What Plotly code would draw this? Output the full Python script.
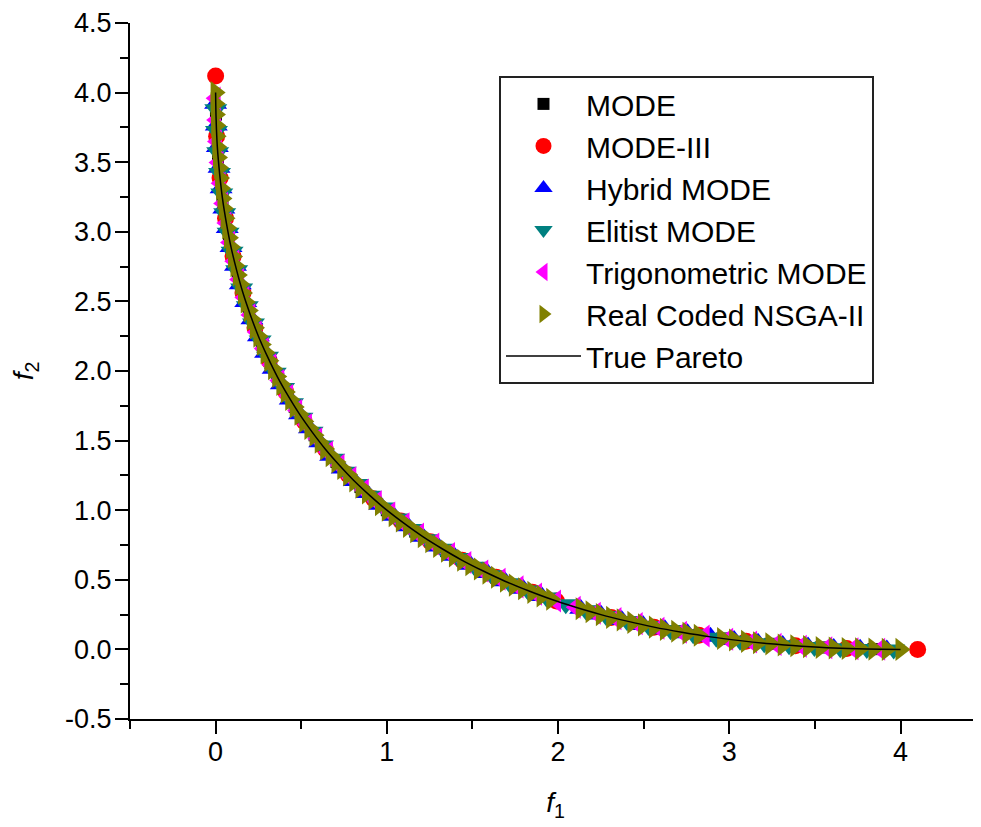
import plotly.graph_objects as go

# ---- data (f1, f2) ----
MODE_F1 = [0.002, 0.014, 0.040, 0.078, 0.130, 0.194, 0.270, 0.360, 0.462, 0.578, 0.706, 0.846, 1.000,
           1.166, 1.346, 1.538, 1.742, 1.960, 2.190, 2.434, 2.690, 2.958, 3.240, 3.534, 3.842]
MODE_F2 = [3.842, 3.534, 3.240, 2.958, 2.690, 2.434, 2.190, 1.960, 1.742, 1.538, 1.346, 1.166, 1.000,
           0.846, 0.706, 0.578, 0.462, 0.360, 0.270, 0.194, 0.130, 0.078, 0.040, 0.014, 0.002]

MODE3_F1 = [0.000, 0.006, 0.026, 0.058, 0.102, 0.160, 0.230, 0.314, 0.410, 0.518, 0.640, 0.774, 0.922,
            1.082, 1.254, 1.440, 1.638, 1.850, 1.990, 2.310, 2.560, 2.822, 3.098, 3.386, 3.686, 4.100]
MODE3_F2 = [4.120, 3.686, 3.386, 3.098, 2.822, 2.560, 2.310, 2.074, 1.850, 1.638, 1.440, 1.254, 1.082,
            0.922, 0.774, 0.640, 0.518, 0.410, 0.347, 0.230, 0.160, 0.102, 0.058, 0.026, 0.006, 0.000]

HYB_F1 = [0.000, 0.004, 0.010, 0.020, 0.032, 0.048, 0.068, 0.090, 0.116, 0.144, 0.176, 0.212, 0.250,
          0.292, 0.336, 0.384, 0.436, 0.490, 0.548, 0.608, 0.672, 0.740, 0.810, 0.884, 0.960, 1.040,
          1.124, 1.210, 1.300, 1.392, 1.488, 1.588, 1.690, 1.796, 1.904, 2.132, 2.250, 2.372, 2.496,
          2.624, 2.756, 2.890, 3.028, 3.168, 3.312, 3.460, 3.610, 3.764, 3.920]
HYB_F2 = [3.920, 3.764, 3.610, 3.460, 3.312, 3.168, 3.028, 2.890, 2.756, 2.624, 2.496, 2.372, 2.250,
          2.132, 2.016, 1.904, 1.796, 1.690, 1.588, 1.488, 1.392, 1.300, 1.210, 1.124, 1.040, 0.960,
          0.884, 0.810, 0.740, 0.672, 0.608, 0.548, 0.490, 0.436, 0.384, 0.292, 0.250, 0.212, 0.176,
          0.144, 0.116, 0.090, 0.068, 0.048, 0.032, 0.020, 0.010, 0.004, 0.000]

ELI_F1 = [0.001, 0.005, 0.012, 0.023, 0.036, 0.053, 0.073, 0.096, 0.123, 0.152, 0.185, 0.221, 0.260,
          0.303, 0.348, 0.397, 0.449, 0.504, 0.563, 0.624, 0.689, 0.757, 0.828, 0.903, 0.980, 1.061,
          1.145, 1.232, 1.323, 1.416, 1.513, 1.613, 1.716, 1.823, 1.932, 2.045, 2.161, 2.280, 2.403,
          2.528, 2.657, 2.789, 2.924, 3.063, 3.204, 3.349, 3.497, 3.648, 3.803, 3.960]
ELI_F2 = [3.881, 3.725, 3.572, 3.423, 3.276, 3.133, 2.993, 2.856, 2.723, 2.592, 2.465, 2.341, 2.220,
          2.103, 1.988, 1.877, 1.769, 1.664, 1.563, 1.464, 1.369, 1.277, 1.188, 1.103, 1.020, 0.941,
          0.865, 0.792, 0.723, 0.656, 0.593, 0.533, 0.476, 0.423, 0.372, 0.325, 0.281, 0.240, 0.203,
          0.168, 0.137, 0.109, 0.084, 0.063, 0.044, 0.029, 0.017, 0.008, 0.003, 0.000]

TRIG_F1 = [0.000, 0.003, 0.008, 0.017, 0.029, 0.044, 0.063, 0.084, 0.109, 0.137, 0.168, 0.203, 0.240,
           0.281, 0.325, 0.372, 0.423, 0.476, 0.533, 0.593, 0.656, 0.723, 0.792, 0.865, 0.941, 1.020,
           1.103, 1.188, 1.277, 1.369, 1.464, 1.563, 1.664, 1.769, 1.877, 1.988, 2.103, 2.220, 2.341,
           2.465, 2.592, 2.723, 2.856, 2.993, 3.133, 3.276, 3.423, 3.572, 3.725, 3.881]
TRIG_F2 = [3.960, 3.803, 3.648, 3.497, 3.349, 3.204, 3.063, 2.924, 2.789, 2.657, 2.528, 2.403, 2.280,
           2.161, 2.045, 1.932, 1.823, 1.716, 1.613, 1.513, 1.416, 1.323, 1.232, 1.145, 1.061, 0.980,
           0.903, 0.828, 0.757, 0.689, 0.624, 0.563, 0.504, 0.449, 0.397, 0.348, 0.303, 0.260, 0.221,
           0.185, 0.152, 0.123, 0.096, 0.073, 0.053, 0.036, 0.023, 0.012, 0.005, 0.001]

NSGA_F1 = [0.000, 0.000, 0.002, 0.004, 0.006, 0.010, 0.014, 0.020, 0.026, 0.032, 0.040, 0.048, 0.058,
           0.068, 0.078, 0.090, 0.102, 0.116, 0.130, 0.144, 0.160, 0.176, 0.194, 0.212, 0.230, 0.250,
           0.270, 0.292, 0.314, 0.336, 0.360, 0.384, 0.410, 0.436, 0.462, 0.490, 0.518, 0.548, 0.578,
           0.608, 0.640, 0.672, 0.706, 0.740, 0.774, 0.810, 0.846, 0.884, 0.922, 0.960, 1.000,
           1.040, 1.082, 1.124, 1.166, 1.210, 1.254, 1.300, 1.346, 1.392, 1.440, 1.488, 1.538, 1.588,
           1.638, 1.690, 1.742, 1.796, 1.850, 1.904, 1.960, 2.132, 2.190, 2.250, 2.310, 2.372,
           2.434, 2.496, 2.560, 2.624, 2.690, 2.756, 2.822, 2.958, 3.028, 3.098, 3.168, 3.240, 3.312,
           3.386, 3.460, 3.534, 3.610, 3.686, 3.764, 3.842, 3.920, 4.000]
NSGA_F2 = [4.000, 3.920, 3.842, 3.764, 3.686, 3.610, 3.534, 3.460, 3.386, 3.312, 3.240, 3.168, 3.098,
           3.028, 2.958, 2.890, 2.822, 2.756, 2.690, 2.624, 2.560, 2.496, 2.434, 2.372, 2.310, 2.250,
           2.190, 2.132, 2.074, 2.016, 1.960, 1.904, 1.850, 1.796, 1.742, 1.690, 1.638, 1.588, 1.538,
           1.488, 1.440, 1.392, 1.346, 1.300, 1.254, 1.210, 1.166, 1.124, 1.082, 1.040, 1.000,
           0.960, 0.922, 0.884, 0.846, 0.810, 0.774, 0.740, 0.706, 0.672, 0.640, 0.608, 0.578, 0.548,
           0.518, 0.490, 0.462, 0.436, 0.410, 0.384, 0.360, 0.292, 0.270, 0.250, 0.230, 0.212,
           0.194, 0.176, 0.160, 0.144, 0.130, 0.116, 0.102, 0.078, 0.068, 0.058, 0.048, 0.040, 0.032,
           0.026, 0.020, 0.014, 0.010, 0.006, 0.004, 0.002, 0.000, 0.000]

TRUE_F1 = [0.000, 0.003, 0.010, 0.023, 0.040, 0.063, 0.090, 0.123, 0.160, 0.203, 0.250, 0.303, 0.360,
           0.423, 0.490, 0.563, 0.640, 0.723, 0.810, 0.903, 1.000, 1.103, 1.210, 1.323, 1.440, 1.563,
           1.690, 1.823, 1.960, 2.103, 2.250, 2.403, 2.560, 2.723, 2.890, 3.063, 3.240, 3.423, 3.610,
           3.803, 4.000]
TRUE_F2 = [4.000, 3.803, 3.610, 3.423, 3.240, 3.063, 2.890, 2.723, 2.560, 2.403, 2.250, 2.103, 1.960,
           1.823, 1.690, 1.563, 1.440, 1.323, 1.210, 1.103, 1.000, 0.903, 0.810, 0.723, 0.640, 0.563,
           0.490, 0.423, 0.360, 0.303, 0.250, 0.203, 0.160, 0.123, 0.090, 0.063, 0.040, 0.023, 0.010,
           0.003, 0.000]

X_TICKS = [0, 1, 2, 3, 4]
Y_TICKS = [-0.5, 0.0, 0.5, 1.0, 1.5, 2.0, 2.5, 3.0, 3.5, 4.0, 4.5]

FONT = "Liberation Sans, Arial, sans-serif"

fig = go.Figure()
series = [
    ("MODE", MODE_F1, MODE_F2, "square", "#000000", 12),
    ("MODE-III", MODE3_F1, MODE3_F2, "circle", "#FF0000", 17),
    ("Hybrid MODE", HYB_F1, HYB_F2, "triangle-up", "#0000FF", 20),
    ("Elitist MODE", ELI_F1, ELI_F2, "triangle-down", "#008080", 20),
    ("Trigonometric MODE", TRIG_F1, TRIG_F2, "triangle-left", "#FF00FF", 20),
    ("Real Coded NSGA-II", NSGA_F1, NSGA_F2, "triangle-right", "#808000", 20),
]
for name, xs, ys, sym, col, sz in series:
    fig.add_trace(go.Scatter(x=xs, y=ys, mode="markers", name=name,
                             marker=dict(symbol=sym, color=col, size=sz, line=dict(width=0))))
fig.add_trace(go.Scatter(x=TRUE_F1, y=TRUE_F2, mode="lines", name="True Pareto",
                         line=dict(color="black", width=1.5, shape="spline")))

axis_common = dict(showgrid=False, zeroline=False, showline=True, linecolor="black", linewidth=2,
                   ticks="outside", ticklen=13, tickwidth=2, tickcolor="black", mirror=False,
                   automargin=False,
                   tickfont=dict(family=FONT, size=27, color="black"))

fig.update_xaxes(range=[-0.5, 4.47], tickvals=X_TICKS, ticktext=[str(v) for v in X_TICKS],
                 ticklabelstandoff=-5,
                 minor=dict(ticks="outside", ticklen=8, tickwidth=2, tickcolor="black", dtick=0.5, tick0=0),
                 title=dict(text="<i>f</i><sub>1</sub>", font=dict(family=FONT, size=28, color="black"), standoff=26),
                 **axis_common)
fig.update_yaxes(range=[-0.5, 4.5], tickvals=Y_TICKS, ticktext=[f"{v:.1f}" for v in Y_TICKS],
                 ticklabelstandoff=-2,
                 minor=dict(ticks="outside", ticklen=8, tickwidth=2, tickcolor="black", dtick=0.25, tick0=0),
                 title=dict(text="<i>f</i><sub>2</sub>", font=dict(family=FONT, size=28, color="black"), standoff=38),
                 **axis_common)

# page body has an 8px margin: size the figure so it fills the 981x827 window
fig.update_layout(
    width=973, height=819,
    margin=dict(l=122, r=0, t=15, b=108),
    paper_bgcolor="white", plot_bgcolor="white",
    showlegend=True,
    legend=dict(x=0.4336, y=0.924, xanchor="left", yanchor="top",
                bordercolor="#222222", borderwidth=2, bgcolor="rgba(255,255,255,1)",
                font=dict(family=FONT, size=30, color="black"), itemwidth=75,
                tracegroupgap=0),
)

fig.write_html("out.html")
